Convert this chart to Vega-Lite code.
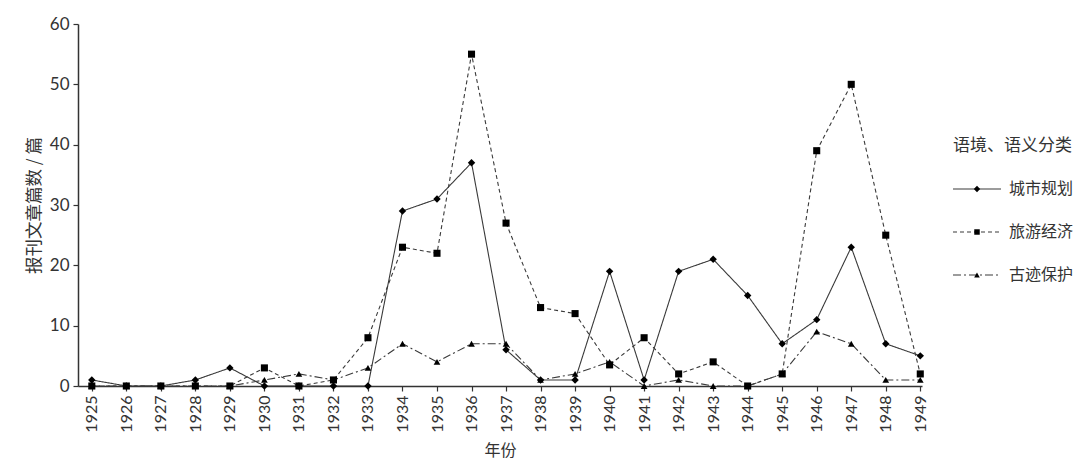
{
  "$schema": "https://vega.github.io/schema/vega-lite/v6.json",
  "padding": {"left": 25, "top": 15, "right": 5, "bottom": 5},
  "bounds": "flush",
  "spacing": 31,
  "config": {
    "view": {"stroke": null},
    "font": "Noto Sans CJK SC",
    "axis": {"grid": false, "domainColor": "#333", "tickColor": "#333", "labelColor": "#333", "titleColor": "#333", "domainWidth": 1.5, "tickWidth": 1.2}
  },
  "datasets": {
    "main": [
      {"year": 1925, "cat": "城市规划", "n": 1}, {"year": 1926, "cat": "城市规划", "n": 0}, {"year": 1927, "cat": "城市规划", "n": 0}, {"year": 1928, "cat": "城市规划", "n": 1}, {"year": 1929, "cat": "城市规划", "n": 3}, {"year": 1930, "cat": "城市规划", "n": 0}, {"year": 1931, "cat": "城市规划", "n": 0}, {"year": 1932, "cat": "城市规划", "n": 0}, {"year": 1933, "cat": "城市规划", "n": 0}, {"year": 1934, "cat": "城市规划", "n": 29}, {"year": 1935, "cat": "城市规划", "n": 31}, {"year": 1936, "cat": "城市规划", "n": 37}, {"year": 1937, "cat": "城市规划", "n": 6}, {"year": 1938, "cat": "城市规划", "n": 1}, {"year": 1939, "cat": "城市规划", "n": 1}, {"year": 1940, "cat": "城市规划", "n": 19}, {"year": 1941, "cat": "城市规划", "n": 1}, {"year": 1942, "cat": "城市规划", "n": 19}, {"year": 1943, "cat": "城市规划", "n": 21}, {"year": 1944, "cat": "城市规划", "n": 15}, {"year": 1945, "cat": "城市规划", "n": 7}, {"year": 1946, "cat": "城市规划", "n": 11}, {"year": 1947, "cat": "城市规划", "n": 23}, {"year": 1948, "cat": "城市规划", "n": 7}, {"year": 1949, "cat": "城市规划", "n": 5},
      {"year": 1925, "cat": "旅游经济", "n": 0}, {"year": 1926, "cat": "旅游经济", "n": 0}, {"year": 1927, "cat": "旅游经济", "n": 0}, {"year": 1928, "cat": "旅游经济", "n": 0}, {"year": 1929, "cat": "旅游经济", "n": 0}, {"year": 1930, "cat": "旅游经济", "n": 3}, {"year": 1931, "cat": "旅游经济", "n": 0}, {"year": 1932, "cat": "旅游经济", "n": 1}, {"year": 1933, "cat": "旅游经济", "n": 8}, {"year": 1934, "cat": "旅游经济", "n": 23}, {"year": 1935, "cat": "旅游经济", "n": 22}, {"year": 1936, "cat": "旅游经济", "n": 55}, {"year": 1937, "cat": "旅游经济", "n": 27}, {"year": 1938, "cat": "旅游经济", "n": 13}, {"year": 1939, "cat": "旅游经济", "n": 12}, {"year": 1940, "cat": "旅游经济", "n": 3.5}, {"year": 1941, "cat": "旅游经济", "n": 8}, {"year": 1942, "cat": "旅游经济", "n": 2}, {"year": 1943, "cat": "旅游经济", "n": 4}, {"year": 1944, "cat": "旅游经济", "n": 0}, {"year": 1945, "cat": "旅游经济", "n": 2}, {"year": 1946, "cat": "旅游经济", "n": 39}, {"year": 1947, "cat": "旅游经济", "n": 50}, {"year": 1948, "cat": "旅游经济", "n": 25}, {"year": 1949, "cat": "旅游经济", "n": 2},
      {"year": 1925, "cat": "古迹保护", "n": 0}, {"year": 1926, "cat": "古迹保护", "n": 0}, {"year": 1927, "cat": "古迹保护", "n": 0}, {"year": 1928, "cat": "古迹保护", "n": 0}, {"year": 1929, "cat": "古迹保护", "n": 0}, {"year": 1930, "cat": "古迹保护", "n": 1}, {"year": 1931, "cat": "古迹保护", "n": 2}, {"year": 1932, "cat": "古迹保护", "n": 1}, {"year": 1933, "cat": "古迹保护", "n": 3}, {"year": 1934, "cat": "古迹保护", "n": 7}, {"year": 1935, "cat": "古迹保护", "n": 4}, {"year": 1936, "cat": "古迹保护", "n": 7}, {"year": 1937, "cat": "古迹保护", "n": 7}, {"year": 1938, "cat": "古迹保护", "n": 1}, {"year": 1939, "cat": "古迹保护", "n": 2}, {"year": 1940, "cat": "古迹保护", "n": 4}, {"year": 1941, "cat": "古迹保护", "n": 0}, {"year": 1942, "cat": "古迹保护", "n": 1}, {"year": 1943, "cat": "古迹保护", "n": 0}, {"year": 1944, "cat": "古迹保护", "n": 0}, {"year": 1945, "cat": "古迹保护", "n": 2}, {"year": 1946, "cat": "古迹保护", "n": 9}, {"year": 1947, "cat": "古迹保护", "n": 7}, {"year": 1948, "cat": "古迹保护", "n": 1}, {"year": 1949, "cat": "古迹保护", "n": 1}
    ],
    "leg": [
      {"label": "语境、语义分类", "kind": "title", "cat": "title"},
      {"label": "城市规划", "kind": "item", "cat": "城市规划"},
      {"label": "旅游经济", "kind": "item", "cat": "旅游经济"},
      {"label": "古迹保护", "kind": "item", "cat": "古迹保护"}
    ]
  },
  "hconcat": [
    {
      "width": 844,
      "height": 362,
      "data": {"name": "main"},
      "encoding": {
        "x": {
          "field": "year", "type": "quantitative",
          "scale": {"domain": [1924.6, 1949.05], "nice": false, "zero": false},
          "axis": {
            "values": [1925,1926,1927,1928,1929,1930,1931,1932,1933,1934,1935,1936,1937,1938,1939,1940,1941,1942,1943,1944,1945,1946,1947,1948,1949],
            "format": "d", "labelAngle": -90, "labelAlign": "right", "labelBaseline": "middle",
            "labelFont": "Lato", "labelFontSize": 16, "tickSize": 5, "labelPadding": 4,
            "title": "年份", "titleFontSize": 16, "titleFontWeight": "normal", "titlePadding": 10
          }
        },
        "y": {
          "field": "n", "type": "quantitative",
          "scale": {"domain": [0, 60], "nice": false},
          "axis": {
            "values": [0,10,20,30,40,50,60], "labelFont": "Lato", "labelFontSize": 17, "tickSize": 5, "labelPadding": 4,
            "title": "报刊文章篇数 / 篇", "titleFontSize": 17.5, "titleFontWeight": "normal", "titlePadding": 6
          }
        }
      },
      "layer": [
        {
          "mark": {"type": "line", "strokeWidth": 1.1, "color": "#3a3a3a"},
          "encoding": {
            "strokeDash": {
              "field": "cat", "type": "nominal",
              "scale": {"domain": ["城市规划","旅游经济","古迹保护"], "range": [[1,0],[4,3],[8,3,2,3]]},
              "legend": null
            }
          }
        },
        {
          "transform": [{"filter": "datum.cat === '城市规划'"}],
          "mark": {"type": "point", "shape": "diamond", "filled": true, "opacity": 1, "color": "black", "size": 55}
        },
        {
          "transform": [{"filter": "datum.cat === '旅游经济'"}],
          "mark": {"type": "point", "shape": "square", "filled": true, "opacity": 1, "color": "black", "size": 50}
        },
        {
          "transform": [{"filter": "datum.cat === '古迹保护'"}],
          "mark": {"type": "point", "shape": "triangle-up", "filled": true, "opacity": 1, "color": "black", "size": 45}
        }
      ]
    },
    {
      "width": 128,
      "height": 362,
      "data": {"name": "leg"},
      "encoding": {
        "y": {
          "field": "label", "type": "nominal",
          "scale": {"type": "point", "domain": ["语境、语义分类","城市规划","旅游经济","古迹保护"], "range": [122, 251], "padding": 0},
          "axis": null
        }
      },
      "layer": [
        {
          "transform": [{"filter": "datum.kind === 'item'"}],
          "mark": {"type": "rule", "color": "#3a3a3a", "strokeWidth": 1.1},
          "encoding": {
            "x": {"datum": 0, "type": "quantitative", "scale": {"domain": [0, 8], "nice": false, "zero": false}, "axis": null},
            "x2": {"datum": 3},
            "strokeDash": {
              "field": "cat", "type": "nominal",
              "scale": {"domain": ["城市规划","旅游经济","古迹保护"], "range": [[1,0],[4,3],[8,3,2,3]]},
              "legend": null
            }
          }
        },
        {
          "transform": [{"filter": "datum.cat === '城市规划'"}],
          "mark": {"type": "point", "shape": "diamond", "filled": true, "opacity": 1, "color": "black", "size": 40},
          "encoding": {"x": {"datum": 1.5, "type": "quantitative"}}
        },
        {
          "transform": [{"filter": "datum.cat === '旅游经济'"}],
          "mark": {"type": "point", "shape": "square", "filled": true, "opacity": 1, "color": "black", "size": 30},
          "encoding": {"x": {"datum": 1.5, "type": "quantitative"}}
        },
        {
          "transform": [{"filter": "datum.cat === '古迹保护'"}],
          "mark": {"type": "point", "shape": "triangle-up", "filled": true, "opacity": 1, "color": "black", "size": 32},
          "encoding": {"x": {"datum": 1.5, "type": "quantitative"}}
        },
        {
          "transform": [{"filter": "datum.kind === 'item'"}],
          "mark": {"type": "text", "align": "left", "baseline": "middle", "fontSize": 16, "color": "#333"},
          "encoding": {"x": {"datum": 3.5, "type": "quantitative"}, "text": {"field": "label"}}
        },
        {
          "transform": [{"filter": "datum.kind === 'title'"}],
          "mark": {"type": "text", "align": "left", "baseline": "middle", "fontSize": 17, "color": "#333"},
          "encoding": {"x": {"datum": 0, "type": "quantitative"}, "text": {"field": "label"}}
        }
      ]
    }
  ]
}
